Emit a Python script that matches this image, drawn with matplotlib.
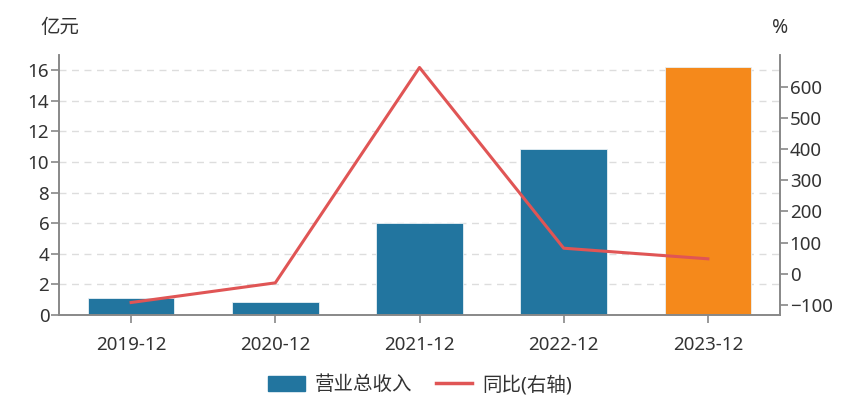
import matplotlib
matplotlib.use("Agg")
import matplotlib.pyplot as plt
from matplotlib.patches import FancyBboxPatch, Patch
from matplotlib.lines import Line2D

plt.rcParams['font.family'] = ['Noto Sans', 'Noto Sans CJK SC', 'DejaVu Sans']

categories = ['2019-12', '2020-12', '2021-12', '2022-12', '2023-12']
revenue = [1.13, 0.83, 6.01, 10.85, 16.2]
yoy = [-92, -29, 661, 82, 48]
bar_colors = ['#22759f', '#22759f', '#22759f', '#22759f', '#f5891b']
left_ticks = [0, 2, 4, 6, 8, 10, 12, 14, 16]
right_ticks = [-100, 0, 100, 200, 300, 400, 500, 600]

W, H = 866, 412
fig = plt.figure(figsize=(W / 100, H / 100), dpi=100)
ax = fig.add_axes([59 / W, 1 - 315 / H, (780 - 59) / W, (315 - 55) / H])
x = list(range(len(categories)))

ax.set_axisbelow(True)
ax.grid(axis='y', color='#dddddd', linestyle=(0, (5, 4)), linewidth=1)
ax.bar(x, revenue, width=0.6, color=bar_colors, edgecolor='#e8f0f5', linewidth=0.6, zorder=2)
ax.set_xlim(-0.5, 4.5)
ax.set_ylim(0, 17)
ax.set_yticks(left_ticks)
ax.set_xticks(x)
ax.set_xticklabels(categories)

ax2 = ax.twinx()
ax2.plot(x, yoy, color='#e05555', linewidth=2.2, zorder=3)
ax2.set_ylim(-132, 701)
ax2.set_yticks(right_ticks)

fs = 13.5
gray = '#888888'
for a in (ax, ax2):
    a.spines['top'].set_visible(False)
    for s in ('left', 'right', 'bottom'):
        a.spines[s].set_color(gray)
        a.spines[s].set_linewidth(1.2)
    a.tick_params(colors=gray, labelcolor='#333333', labelsize=fs, length=6, width=1.2)
ax.tick_params(axis='x', pad=9)
ax.tick_params(axis='y', pad=1)
ax2.tick_params(axis='y', pad=1)
ax2.set_zorder(ax.get_zorder() + 1)
ax2.patch.set_visible(False)

fig.text(60 / W, 1 - 28 / H, '亿元', ha='center', va='center', fontsize=14, color='#333333')
fig.text(780 / W, 1 - 28 / H, '%', ha='center', va='center', fontsize=14, color='#333333')

handles = [Patch(facecolor='#22759f', edgecolor='#22759f'),
           Line2D([0], [0], color='#e05555', linewidth=2.5)]
leg = fig.legend(handles, ['营业总收入', '同比(右轴)'], loc='center', bbox_to_anchor=(420 / W, 1 - 385 / H),
                 ncol=2, frameon=False, fontsize=14, handlelength=1.9, handleheight=0.8,
                 columnspacing=1.2, handletextpad=0.5)
for t in leg.get_texts():
    t.set_color('#333333')

fig.savefig('out.png', dpi=100)
